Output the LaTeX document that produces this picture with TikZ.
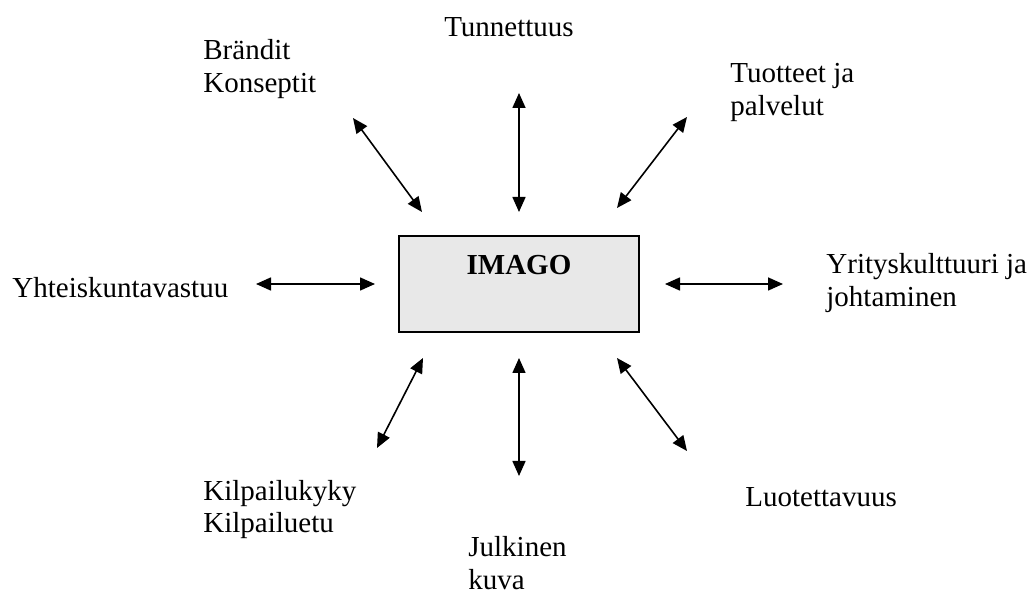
\documentclass[tikz,border=0pt]{standalone}
\usepackage{fontspec}
\setmainfont{Liberation Serif}
\usetikzlibrary{arrows.meta}

\tikzset{
    lbl/.style={anchor=base west, align=left, inner sep=0pt, font=\fontsize{14.5}{16.5}\selectfont},
    link/.style={{Triangle[length=7.5pt,width=6.5pt]}-{Triangle[length=7.5pt,width=6.5pt]}, line width=0.8pt},
    imagobox/.style={draw=black, line width=1pt, fill=black!9, minimum width=120pt, minimum height=48pt}
}

\begin{document}
\begin{tikzpicture}[x=0.5pt,y=-0.5pt]
\useasboundingbox (0,0) rectangle (1034,598);

                \node[imagobox] (imago) at (519,284) {};
                \node[anchor=base, inner sep=0pt, font=\fontsize{14.5}{16}\selectfont\bfseries] (imagotxt) at (519,275) {IMAGO};

                % multi-line labels sit on the baseline of their last line
                \node[lbl] (brandit) at (203,93) {Brändit\\Konseptit};
                \node[lbl, anchor=base] (tunnettuus) at (509,37) {Tunnettuus};
                \node[lbl] (tuotteet) at (730,116) {Tuotteet ja\\palvelut};
                \node[lbl] (yhteis) at (12,298) {Yhteiskuntavastuu};
                \node[lbl] (yritys) at (826,307) {Yrityskulttuuri ja\\johtaminen};
                \node[lbl] (kilpailu) at (203,533) {Kilpailukyky\\Kilpailuetu};
                \node[lbl] (julkinen) at (468,589) {Julkinen\\kuva};
                \node[lbl] (luotettavuus) at (745,507) {Luotettavuus};

                \coordinate (tl1) at (353,118);
                \coordinate (tl2) at (422,212);
                \coordinate (t1) at (519,93);
                \coordinate (t2) at (519,212);
                \coordinate (tr1) at (687,117);
                \coordinate (tr2) at (617,208);
                \coordinate (l1) at (256,284);
                \coordinate (l2) at (375,284);
                \coordinate (r1) at (783,284);
                \coordinate (r2) at (665,284);
                \coordinate (bl1) at (377,448);
                \coordinate (bl2) at (423,358);
                \coordinate (b1) at (519,476);
                \coordinate (b2) at (519,358);
                \coordinate (br1) at (687,451);
                \coordinate (br2) at (617,358);

                \draw[link] (tl1) -- (tl2);
                \draw[link] (t1) -- (t2);
                \draw[link] (tr1) -- (tr2);
                \draw[link] (l1) -- (l2);
                \draw[link] (r1) -- (r2);
                \draw[link] (bl1) -- (bl2);
                \draw[link] (b1) -- (b2);
                \draw[link] (br1) -- (br2);

\end{tikzpicture}
\end{document}
